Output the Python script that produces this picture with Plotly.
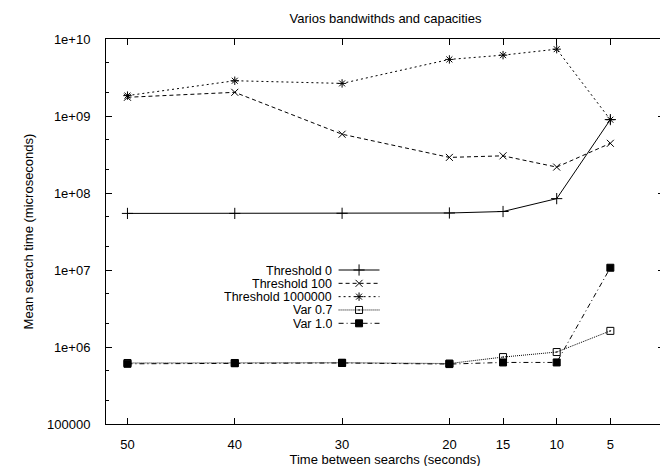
import plotly.graph_objects as go

# ---- data ----
x_seconds = [50, 40, 30, 20, 15, 10, 5]
x_tick_vals = [50, 40, 30, 20, 15, 10, 5]
x_tick_text = ["50", "40", "30", "20", "15", "10", "5"]

thr0 = [5.43e7, 5.43e7, 5.45e7, 5.5e7, 5.75e7, 8.45e7, 8.98e8]
thr100 = [1.75e9, 2.03e9, 5.8e8, 2.9e8, 3.04e8, 2.17e8, 4.42e8]
thr1m = [1.84e9, 2.87e9, 2.65e9, 5.43e9, 6.17e9, 7.38e9, 8.95e8]
var07 = [6.2e5, 6.2e5, 6.25e5, 6.1e5, 7.4e5, 8.6e5, 1.62e6]
var10 = [6.05e5, 6.15e5, 6.2e5, 6.0e5, 6.3e5, 6.3e5, 1.07e7]

y_tick_vals = [1e5, 1e6, 1e7, 1e8, 1e9, 1e10]
y_tick_text = ["100000", "1e+06", "1e+07", "1e+08", "1e+09", "1e+10"]
y_minor_vals = [2e5, 5e5, 2e6, 5e6, 2e7, 5e7, 2e8, 5e8, 2e9, 5e9]

series_names = ["Threshold 0", "Threshold 100", "Threshold 1000000", "Var 0.7", "Var 1.0"]
series_values = [thr0, thr100, thr1m, var07, var10]

# ---- styles ----
dashes = ["solid", "4px,3px", "2px,3px", "1px,1px", "5px,3px,1px,3px"]
symbols = ["cross-thin-open", "x-thin-open", "asterisk-open", "square-open-dot", "square"]
msizes = [8, 7, 7, 7, 7]
FONT = "Liberation Sans, Arial, Helvetica, sans-serif"
FS = 13

fig = go.Figure()
for name, vals, dash, sym, ms in zip(series_names, series_values, dashes, symbols, msizes):
    fig.add_trace(go.Scatter(
        x=x_seconds, y=vals, name=name, mode="lines+markers",
        line=dict(color="black", width=1, dash=dash),
        marker=dict(symbol=sym, size=ms, color="black",
                    line=dict(color="black", width=1)),
        showlegend=False, xaxis="x", yaxis="y"))

# ---- gnuplot-style key (text right-aligned, sample on the right) on a pixel overlay axis ----
L, R, T, B = 98, 657, 31, 421
key_text_x = 325
key_x0, key_x1 = 331, 372
key_rows = [265, 278.5, 292, 305.5, 319]
for name, row, dash, sym, ms in zip(series_names, key_rows, dashes, symbols, msizes):
    fig.add_trace(go.Scatter(
        x=[key_x0, key_x1], y=[row, row], mode="lines",
        line=dict(color="black", width=1, dash=dash),
        showlegend=False, hoverinfo="skip", xaxis="x2", yaxis="y2"))
    fig.add_trace(go.Scatter(
        x=[(key_x0 + key_x1) / 2], y=[row], mode="markers",
        marker=dict(symbol=sym, size=ms, color="black",
                    line=dict(color="black", width=1)),
        showlegend=False, hoverinfo="skip", xaxis="x2", yaxis="y2"))
    fig.add_annotation(x=key_text_x, y=row, xref="x2", yref="y2", text=name,
                       showarrow=False, xanchor="right", yanchor="middle",
                       height=13, borderpad=0, valign="middle",
                       font=dict(family=FONT, size=12.5, color="black"))

axis_common = dict(showgrid=False, zeroline=False, showline=True, linecolor="black",
                   linewidth=1, mirror="allticks", ticks="inside", tickcolor="black",
                   tickfont=dict(family=FONT, size=FS, color="black"))

fig.update_layout(
    width=668, height=466,
    margin=dict(l=L, r=668 - R, t=T, b=466 - B),
    paper_bgcolor="white", plot_bgcolor="white",
    title=dict(text="Varios bandwithds and capacities", x=(L + R) / 2 / 668,
               xanchor="center", y=1 - 10 / 466, yanchor="middle",
               font=dict(family=FONT, size=FS, color="black")),
    font=dict(family=FONT, size=FS, color="black"),
    xaxis=dict(range=[52, 0], tickmode="array", tickvals=x_tick_vals,
               ticktext=x_tick_text, ticklen=6, tickwidth=1,
               title=dict(text="Time between searchs (seconds)", standoff=2,
                          font=dict(family=FONT, size=FS)),
               ticklabelstandoff=8, **axis_common),
    yaxis=dict(type="log", range=[5, 10], tickmode="array", tickvals=y_tick_vals,
               ticktext=y_tick_text, ticklen=6, tickwidth=1,
               minor=dict(ticks="inside", ticklen=3, tickcolor="black",
                          tickvals=y_minor_vals),
               title=dict(text="Mean search time (microseconds)", standoff=10,
                          font=dict(family=FONT, size=FS)),
               ticklabelstandoff=12, **axis_common),
    xaxis2=dict(range=[L, R], visible=False, overlaying="x", anchor="y2",
                fixedrange=True),
    yaxis2=dict(range=[B, T], visible=False, overlaying="y", anchor="x2",
                fixedrange=True),
)

fig.write_html("out.html")
